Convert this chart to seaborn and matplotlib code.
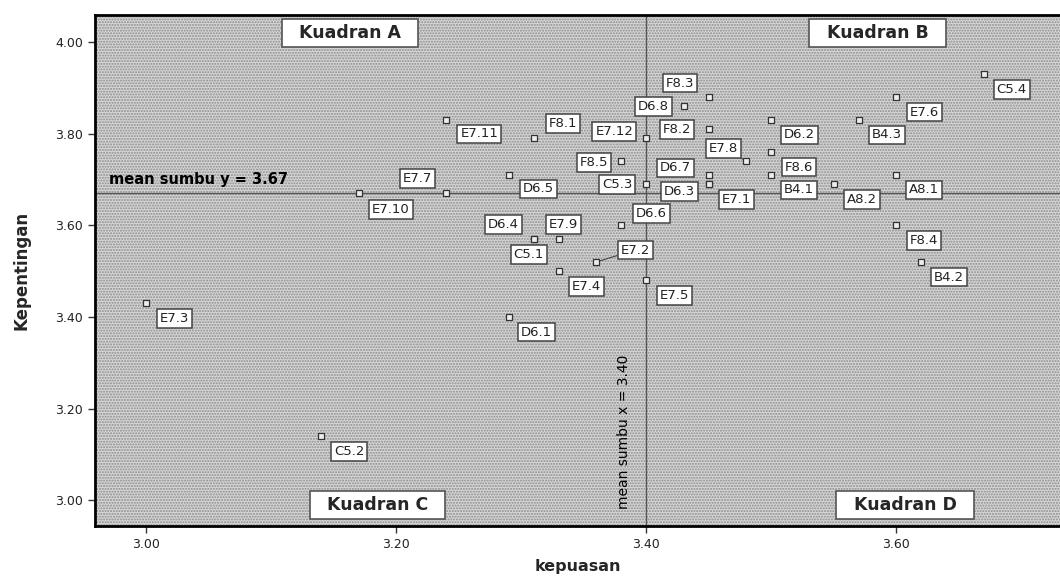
import pandas as pd
import seaborn as sns
import matplotlib.pyplot as plt
from matplotlib.patches import Rectangle

sns.set_theme(style="ticks")
plt.rcParams['font.family'] = ['DejaVu Sans']

# data diagram kartesius
kode = ["C5.4", "E7.6", "B4.3", "A8.1", "F8.4", "B4.2", "A8.2", "D6.2", "F8.6", "B4.1", "E7.8",
        "F8.3", "D6.8", "F8.2", "D6.7", "D6.3", "E7.1", "E7.12", "F8.1", "E7.11", "F8.5", "C5.3",
        "D6.5", "E7.7", "E7.10", "D6.6", "D6.4", "E7.9", "C5.1", "E7.2", "E7.4", "E7.5", "D6.1",
        "E7.3", "C5.2"]
kepuasan = [3.67, 3.60, 3.57, 3.60, 3.60, 3.62, 3.55, 3.50, 3.50, 3.50, 3.48,
            3.45, 3.43, 3.45, 3.45, 3.45, 3.45, 3.40, 3.31, 3.24, 3.38, 3.40,
            3.29, 3.24, 3.17, 3.38, 3.31, 3.33, 3.31, 3.36, 3.33, 3.40, 3.29,
            3.00, 3.14]
kepentingan = [3.93, 3.88, 3.83, 3.71, 3.60, 3.52, 3.69, 3.83, 3.76, 3.71, 3.74,
               3.88, 3.86, 3.81, 3.71, 3.69, 3.69, 3.79, 3.79, 3.83, 3.74, 3.69,
               3.71, 3.67, 3.67, 3.60, 3.57, 3.57, 3.57, 3.52, 3.50, 3.48, 3.40,
               3.43, 3.14]
mean_x = 3.40
mean_y = 3.67
xticks = [3.00, 3.20, 3.40, 3.60]
yticks = [3.00, 3.20, 3.40, 3.60, 3.80, 4.00]

df = pd.DataFrame({"kode": kode, "kepuasan": kepuasan, "kepentingan": kepentingan})

# posisi label (pixel, kanan-bawah default)
geser = {
    "E7.8": (-23, -13), "F8.3": (-29, -14), "D6.8": (-30, 0), "F8.2": (-32, 0),
    "D6.7": (-33, -7), "D6.3": (-29, 7), "E7.12": (-32, -7), "F8.1": (29, -15),
    "F8.5": (-27, 1), "C5.3": (-29, 0), "E7.7": (-29, -15), "D6.6": (30, -12),
    "D6.4": (-30, -15), "E7.9": (5, -15), "C5.1": (-5, 15), "E7.2": (39, -12),
    "E7.11": (33, 14), "E7.10": (32, 16), "D6.5": (30, 14),
}
garis = ["E7.8", "E7.2"]

fig = plt.figure(figsize=(10.6, 5.77), dpi=100)
ax = fig.add_axes([0.0896, 0.0884, 0.9104, 0.8856])
ax.set_facecolor('#d6d6d6')
ax.add_patch(Rectangle((0, 0), 1, 1, transform=ax.transAxes, fill=False,
                       hatch='......', edgecolor='#8c8c8c', lw=0, zorder=0))

ax.axhline(mean_y, color='#555555', lw=1, zorder=1)
ax.axvline(mean_x, color='#555555', lw=1, zorder=1)

sns.scatterplot(data=df, x="kepuasan", y="kepentingan", ax=ax, marker='s', s=20,
                facecolor='#eeeeee', edgecolor='#333333', linewidth=0.9, zorder=3)

for k, x, y in zip(kode, kepuasan, kepentingan):
    dx, dy = geser.get(k, (28, 15))
    ap = dict(arrowstyle='-', color='#444444', lw=0.8, shrinkA=0, shrinkB=3) if k in garis else None
    ax.annotate(k, (x, y), xytext=(dx, -dy), textcoords='offset pixels', ha='center', va='center',
                fontsize=9.5, color='#222222', zorder=4, arrowprops=ap,
                bbox=dict(boxstyle='square,pad=0.22', fc='white', ec='#444444', lw=1.1))

kotak = dict(boxstyle='square,pad=0.3', fc='white', ec='#555555', lw=1.2)
ax.text(3.163, 4.02, "  Kuadran A  ", ha='center', va='center', fontsize=12.5, fontweight='bold', bbox=kotak, zorder=5)
ax.text(3.585, 4.02, "  Kuadran B  ", ha='center', va='center', fontsize=12.5, fontweight='bold', bbox=kotak, zorder=5)
ax.text(3.185, 2.99, "  Kuadran C  ", ha='center', va='center', fontsize=12.5, fontweight='bold', bbox=kotak, zorder=5)
ax.text(3.607, 2.99, "  Kuadran D  ", ha='center', va='center', fontsize=12.5, fontweight='bold', bbox=kotak, zorder=5)

ax.text(2.97, 3.683, "mean sumbu y = 3.67", fontsize=10.5, fontweight='bold', color='black',
        va='bottom', ha='left', zorder=5)
ax.text(3.382, 3.15, "mean sumbu x = 3.40", fontsize=10, color='black', rotation=90,
        ha='center', va='center', zorder=5)

ax.set_xlim(2.959, 3.731)
ax.set_ylim(2.944, 4.059)
ax.set_xticks(xticks)
ax.set_yticks(yticks)
ax.set_xticklabels([f"{v:.2f}" for v in xticks])
ax.set_yticklabels([f"{v:.2f}" for v in yticks])
ax.tick_params(direction='out', length=5, width=1, colors='#333333', labelsize=9, labelcolor='#222222')
ax.set_xlabel("kepuasan", fontsize=11.5, fontweight='bold', labelpad=6)
ax.set_ylabel("Kepentingan", fontsize=12, fontweight='bold', labelpad=18)
for s in ['left', 'top', 'bottom']:
    ax.spines[s].set_linewidth(2)
    ax.spines[s].set_color('black')
ax.spines['right'].set_visible(False)

fig.savefig("out.png", dpi=100)
